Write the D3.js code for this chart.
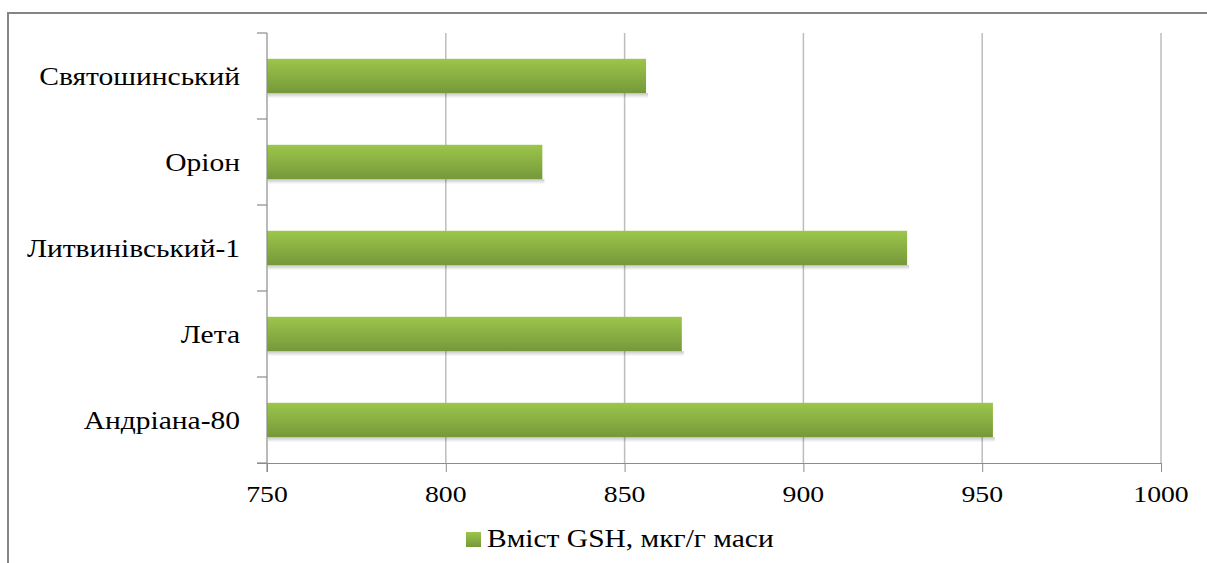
<!DOCTYPE html>
<html>
<head>
<meta charset="utf-8">
<script src="https://cdn.jsdelivr.net/npm/d3@7"></script>
</head>
<body style="margin:0">
<svg id="s" width="1207" height="563"></svg>
<script>
// Glutathione content by variety
const categories = ["Святошинський", "Оріон", "Литвинівський-1", "Лета", "Андріана-80"];
const values = [856, 827, 929, 866, 953];
const xTicks = [750, 800, 850, 900, 950, 1000];
const seriesName = "Вміст GSH, мкг/г маси";

const STRETCH = 1.18; // labels are set slightly wide
const svg = d3.select("#s");
const W = 1207, H = 563;
const plot = { left: 267, right: 1161, top: 33, bottom: 463 };

// Helper: text drawn inside a horizontally stretched group
function addLabel(parent, x, y, txt, size, anchor) {
  const g = parent.append("g").attr("transform", `translate(${x},${y}) scale(${STRETCH},1)`);
  g.append("text")
    .style("font-family", "'Liberation Serif'")
    .attr("font-size", size)
    .attr("text-anchor", anchor)
    .text(txt);
  return g;
}

// Chart frame
svg.append("path")
  .attr("d", `M${W + 2},13 H8 V${H + 2}`)
  .attr("fill", "none")
  .attr("stroke", "#858585")
  .attr("stroke-width", 2);

const defs = svg.append("defs");
const grad = defs.append("linearGradient")
  .attr("id", "barFill").attr("x1", 0).attr("y1", 0).attr("x2", 0).attr("y2", 1);
grad.append("stop").attr("offset", "0%").attr("stop-color", "#9cc64b");
grad.append("stop").attr("offset", "100%").attr("stop-color", "#76983a");
const shade = defs.append("linearGradient")
  .attr("id", "barShade").attr("x1", 0).attr("y1", 0).attr("x2", 0).attr("y2", 1);
shade.append("stop").attr("offset", "0%").attr("stop-color", "#000").attr("stop-opacity", 0.22);
shade.append("stop").attr("offset", "100%").attr("stop-color", "#000").attr("stop-opacity", 0);

const x = d3.scaleLinear().domain([750, 1000]).range([plot.left, plot.right]);
const y = d3.scaleBand().domain(categories).range([plot.top, plot.bottom]).paddingInner(0.6).paddingOuter(0.3);
const yBands = d3.scaleBand().domain(categories).range([plot.top, plot.bottom]);

// Vertical gridlines
svg.append("g")
  .selectAll("line")
  .data(xTicks.slice(1))
  .join("line")
  .attr("x1", d => x(d)).attr("x2", d => x(d))
  .attr("y1", plot.top).attr("y2", plot.bottom)
  .attr("stroke", "#bdbdbd").attr("stroke-width", 1.5);

const barData = categories.map((c, i) => ({ c, v: values[i] }));

// Soft shadow strip under each bar
svg.append("g")
  .selectAll("rect")
  .data(barData)
  .join("rect")
  .attr("x", x(750) + 1)
  .attr("y", d => y(d.c) + y.bandwidth())
  .attr("width", d => x(d.v) - x(750) + 1)
  .attr("height", 5)
  .attr("fill", "url(#barShade)");

// Bars
svg.append("g")
  .selectAll("rect")
  .data(barData)
  .join("rect")
  .attr("x", x(750))
  .attr("y", d => y(d.c))
  .attr("width", d => x(d.v) - x(750))
  .attr("height", y.bandwidth())
  .attr("fill", "url(#barFill)");

// X axis (ticks from the axis generator, labels drawn stretched)
const xAxis = svg.append("g")
  .attr("transform", `translate(0,${plot.bottom})`)
  .call(d3.axisBottom(x).tickValues(xTicks).tickFormat(() => "")
    .tickSize(9).tickSizeOuter(0));
xAxis.select(".domain").attr("stroke", "#8c8c8c").attr("stroke-width", 1.2)
  .attr("d", `M${plot.left - 10},0.5H${plot.right}`);
xAxis.selectAll(".tick line").attr("stroke", "#8c8c8c");
xAxis.selectAll(".tick text").remove();
xTicks.forEach(v => addLabel(svg, x(v), plot.bottom + 39, d3.format("d")(v), 23.5, "middle"));

// Y axis with boundary ticks between categories
const yAxisG = svg.append("g");
yAxisG.append("line")
  .attr("x1", plot.left).attr("x2", plot.left)
  .attr("y1", plot.top).attr("y2", plot.bottom + 9)
  .attr("stroke", "#8c8c8c").attr("stroke-width", 1.2);
const bounds = categories.map(c => yBands(c)).concat([plot.bottom]);
yAxisG.selectAll("line.b")
  .data(bounds)
  .join("line").attr("class", "b")
  .attr("x1", plot.left - 10).attr("x2", plot.left)
  .attr("y1", d => d).attr("y2", d => d)
  .attr("stroke", "#8c8c8c").attr("stroke-width", 1.2);
categories.forEach(c => {
  addLabel(svg, 240, yBands(c) + yBands.bandwidth() / 2 + 8.5, c, 25, "end");
});

// Legend
svg.append("rect").attr("x", 466).attr("y", 532).attr("width", 15).attr("height", 15).attr("fill", "url(#barFill)");
addLabel(svg, 487, 547, seriesName, 25, "start");
</script>
</body>
</html>
